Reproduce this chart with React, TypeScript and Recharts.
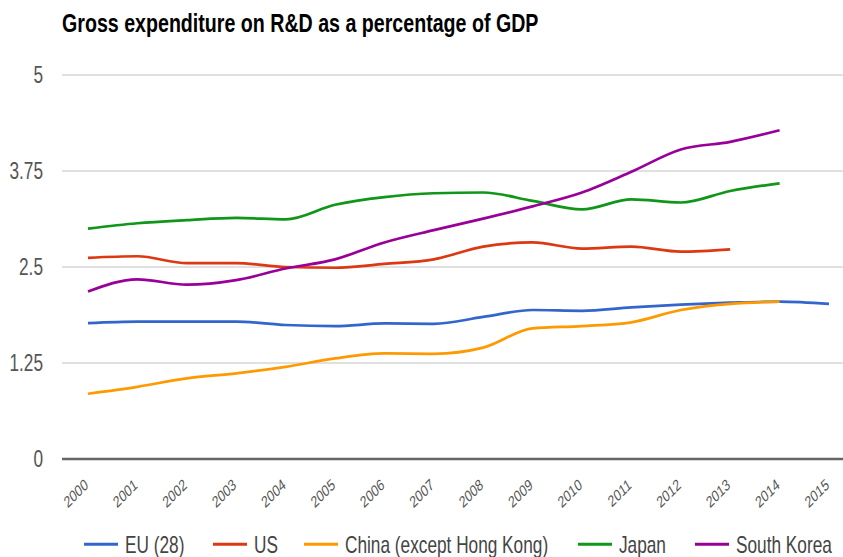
import React from 'react';
import { LineChart, Line, XAxis, YAxis, CartesianGrid } from 'recharts';

const years = ['2000', '2001', '2002', '2003', '2004', '2005', '2006', '2007', '2008', '2009', '2010', '2011', '2012', '2013', '2014', '2015'];
const eu = [1.77, 1.79, 1.79, 1.79, 1.745, 1.73, 1.765, 1.76, 1.85, 1.94, 1.93, 1.975, 2.01, 2.035, 2.05, 2.02];
const us = [2.62, 2.64, 2.55, 2.55, 2.5, 2.49, 2.54, 2.6, 2.765, 2.82, 2.74, 2.765, 2.7, 2.73, null, null];
const china = [0.85, 0.94, 1.05, 1.115, 1.2, 1.31, 1.375, 1.37, 1.45, 1.7, 1.73, 1.78, 1.94, 2.02, 2.05, null];
const japan = [3.0, 3.07, 3.11, 3.14, 3.12, 3.31, 3.41, 3.46, 3.47, 3.36, 3.25, 3.38, 3.34, 3.49, 3.59, null];
const korea = [2.18, 2.34, 2.27, 2.33, 2.48, 2.6, 2.82, 2.98, 3.13, 3.29, 3.47, 3.74, 4.03, 4.13, 4.28, null];
const yTicks = [0, 1.25, 2.5, 3.75, 5];

const seriesNames = ['EU (28)', 'US', 'China (except Hong Kong)', 'Japan', 'South Korea'];
const seriesValues = [eu, us, china, japan, korea];
const seriesColors = ['#3366cc', '#dc3912', '#ff9900', '#109618', '#990099'];
const title = 'Gross expenditure on R&D as a percentage of GDP';

const data = years.map((y, i) => {
  const row: Record<string, any> = { year: y };
  seriesNames.forEach((n, k) => {
    row[n] = seriesValues[k][i];
  });
  return row;
});

const FONT = '"Liberation Sans", Arial, sans-serif';
const SX = 0.75;

const YTick = (props: any) => {
  const { x, y, payload } = props;
  return (
    <g transform={`translate(${x},${y})`}>
      <text transform={`scale(${SX},1)`} textAnchor="end" dy="0.355em" fontSize={23} fill="#555" fontFamily={FONT}>
        {payload.value}
      </text>
    </g>
  );
};

const XTick = (props: any) => {
  const { x, y, payload } = props;
  return (
    <g transform={`translate(${x + 1},${y + 28})`}>
      <text transform={`scale(${SX},1) rotate(-37)`} textAnchor="end" fontSize={16} fill="#555" fontFamily={FONT}>
        {payload.value}
      </text>
    </g>
  );
};

// legend layout (start x of each key line)
const legendX = [84, 213, 304, 578, 695];

export default function App() {
  return (
    <div style={{ position: 'absolute', left: 0, top: 0, width: 843, height: 557, background: '#fff' }}>
      <LineChart width={843} height={557} data={data} margin={{ top: 75, right: 0, left: 0, bottom: 38 }}>
        <CartesianGrid vertical={false} stroke="#d6d6d6" strokeWidth={1.5} />
        <XAxis
          dataKey="year"
          interval={0}
          height={60}
          tickSize={0}
          tickMargin={0}
          tickLine={false}
          axisLine={{ stroke: '#666', strokeWidth: 2.5 }}
          padding={{ left: 26, right: 14 }}
          tick={<XTick />}
        />
        <YAxis
          width={62}
          domain={[0, 5]}
          ticks={yTicks}
          interval={0}
          tickSize={0}
          tickMargin={19}
          tickLine={false}
          axisLine={false}
          tick={<YTick />}
        />
        {seriesNames.map((n, k) => (
          <Line
            key={n}
            type="monotone"
            dataKey={n}
            stroke={seriesColors[k]}
            strokeWidth={2.7}
            dot={false}
            activeDot={false}
            isAnimationActive={false}
          />
        ))}
      </LineChart>
      <svg width={843} height={557} style={{ position: 'absolute', left: 0, top: 0, pointerEvents: 'none' }}>
        <text
          x={0}
          y={0}
          transform={`translate(62,31.7) scale(0.785,1)`}
          fontSize={25}
          fontWeight="bold"
          fill="#000"
          fontFamily={FONT}
        >
          {title}
        </text>
        {seriesNames.map((n, k) => (
          <g key={n}>
            <line x1={legendX[k]} x2={legendX[k] + 34} y1={544.3} y2={544.3} stroke={seriesColors[k]} strokeWidth={3} />
            <text
              transform={`translate(${legendX[k] + 41},553.3) scale(${SX},1)`}
              fontSize={23}
              fill="#444"
              fontFamily={FONT}
            >
              {n}
            </text>
          </g>
        ))}
      </svg>
    </div>
  );
}
